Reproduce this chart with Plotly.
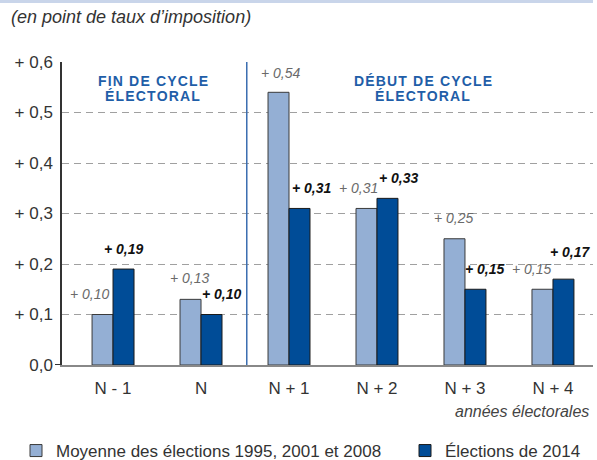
import plotly.graph_objects as go

# ---- data ----
categories = ["N - 1", "N", "N + 1", "N + 2", "N + 3", "N + 4"]
moyenne = [0.10, 0.13, 0.54, 0.31, 0.25, 0.15]
elections_2014 = [0.19, 0.10, 0.31, 0.33, 0.15, 0.17]
series_names = ["Moyenne des élections 1995, 2001 et 2008", "Élections de 2014"]
y_tickvals = [0.0, 0.1, 0.2, 0.3, 0.4, 0.5, 0.6]
y_ticktext = ["0,0", "+ 0,1", "+ 0,2", "+ 0,3", "+ 0,4", "+ 0,5", "+ 0,6"]
header_lines = [["FIN DE CYCLE", "ÉLECTORAL"], ["DÉBUT DE CYCLE", "ÉLECTORAL"]]

# ---- styles ----
LIGHT = "#94afd4"
DARK = "#004c97"
HEAD = "#1f5ea8"
FONT = "Liberation Sans, Arial, sans-serif"
TS = "\u200a"  # hair space for letter spacing

# plot box in px
L, R, T, B = 62, 593, 62, 365
PW, PH = R - L, B - T


def px_x(px):
    return (px - L) / PW


def px_y(py):
    return (B - py) / PH


# label offsets (px) relative to bar centre/top
light_dx = [-13, -1, 2, -8, 0, -10]
light_dy = [21, 21, 19, 20, 21, 20]
dark_dx = [0, 10, 12, 12, 10, 7]
dark_dy = [20, 21, 20, 20, 20, 27]
BAR_OFF = 10.5
header_x = [0.45, 3.52]
header_py = [81, 96]


def fmt(v):
    return "+ " + f"{v:.2f}".replace(".", ",")


def spaced(s):
    return TS.join(list(s))


fig = go.Figure()
fig.add_trace(go.Bar(
    x=categories, y=moyenne, name=series_names[0], legend="legend",
    marker=dict(color=LIGHT, line=dict(color="#3a3a3a", width=1)),
))
fig.add_trace(go.Bar(
    x=categories, y=elections_2014, name=series_names[1], legend="legend2",
    marker=dict(color=DARK, line=dict(color="#1a1a1a", width=1)),
))

annotations = []
for i, c in enumerate(categories):
    annotations.append(dict(
        x=c, y=moyenne[i], xref="x", yref="y",
        text="<i>" + fmt(moyenne[i]) + "</i>",
        showarrow=False, xanchor="center", yanchor="middle",
        xshift=-BAR_OFF + light_dx[i], yshift=light_dy[i],
        font=dict(family=FONT, size=14, color="#6a6a6a"),
    ))
    annotations.append(dict(
        x=c, y=elections_2014[i], xref="x", yref="y",
        text="<b><i>" + fmt(elections_2014[i]) + "</i></b>",
        showarrow=False, xanchor="center", yanchor="middle",
        xshift=BAR_OFF + dark_dx[i], yshift=dark_dy[i],
        font=dict(family=FONT, size=14, color="#111111"),
    ))

# header texts
for xc, lines in zip(header_x, header_lines):
    for line, py in zip(lines, header_py):
        annotations.append(dict(
            x=xc, y=px_y(py), xref="x", yref="paper",
            text="<b>" + spaced(line) + "</b>",
            showarrow=False, xanchor="center", yanchor="middle",
            font=dict(family=FONT, size=14, color=HEAD),
        ))
# subtitle
annotations.append(dict(
    x=px_x(9), y=px_y(17), xref="paper", yref="paper",
    text="<i>(en point de taux d\u2019imposition)</i>",
    showarrow=False, xanchor="left", yanchor="middle",
    font=dict(family=FONT, size=18, color="#333333"),
))
# axis caption
annotations.append(dict(
    x=px_x(591), y=px_y(411), xref="paper", yref="paper",
    text="<i>années électorales</i>", showarrow=False,
    xanchor="right", yanchor="middle",
    font=dict(family=FONT, size=16, color="#444444"),
))

shapes = [
    # separator line between cycles
    dict(type="line", xref="x", yref="y", x0=1.52, x1=1.52, y0=0, y1=0.6,
         line=dict(color="#3a6db0", width=1.5)),
    # top band
    dict(type="rect", xref="paper", yref="paper",
         x0=px_x(0), x1=px_x(593), y0=px_y(3), y1=px_y(0),
         fillcolor="#c9d5ea", line=dict(width=0), layer="below"),
    # small tick at zero
    dict(type="line", xref="paper", yref="y", x0=px_x(55), x1=0, y0=0, y1=0,
         line=dict(color="#333333", width=2)),
]

legend_common = dict(
    orientation="h", yanchor="middle", xanchor="left",
    font=dict(family=FONT, size=17, color="#333333"),
    itemwidth=30, bgcolor="rgba(0,0,0,0)",
)

fig.update_layout(
    width=597, height=460,
    margin=dict(l=L, r=597 - R, t=T, b=460 - B, autoexpand=False),
    paper_bgcolor="white", plot_bgcolor="white",
    barmode="group", bargap=0.523, bargroupgap=0,
    font=dict(family=FONT, size=17, color="#333333"),
    showlegend=True,
    legend=dict(x=px_x(16), y=px_y(451), **legend_common),
    legend2=dict(x=px_x(405), y=px_y(451), **legend_common),
    annotations=annotations,
    shapes=shapes,
)
fig.update_xaxes(
    type="category", range=[-0.58, 5.455],
    showline=True, linecolor="#888888", linewidth=2,
    showgrid=False, ticks="", ticklabelstandoff=7,
    tickfont=dict(family=FONT, size=17, color="#333333"),
    fixedrange=True,
)
fig.update_yaxes(
    range=[0, 0.6], tickvals=y_tickvals, ticktext=y_ticktext,
    showline=True, linecolor="#333333", linewidth=1.5,
    showgrid=True, gridcolor="#a0a0a0", gridwidth=1, griddash="7px,5px",
    zeroline=False, ticks="", ticklabelstandoff=4,
    tickfont=dict(family=FONT, size=17, color="#333333"),
    fixedrange=True,
)

fig.write_html(
    "out.html",
    config={"displayModeBar": False},
    post_script="document.body.style.margin='0';document.body.style.overflow='hidden';",
)
